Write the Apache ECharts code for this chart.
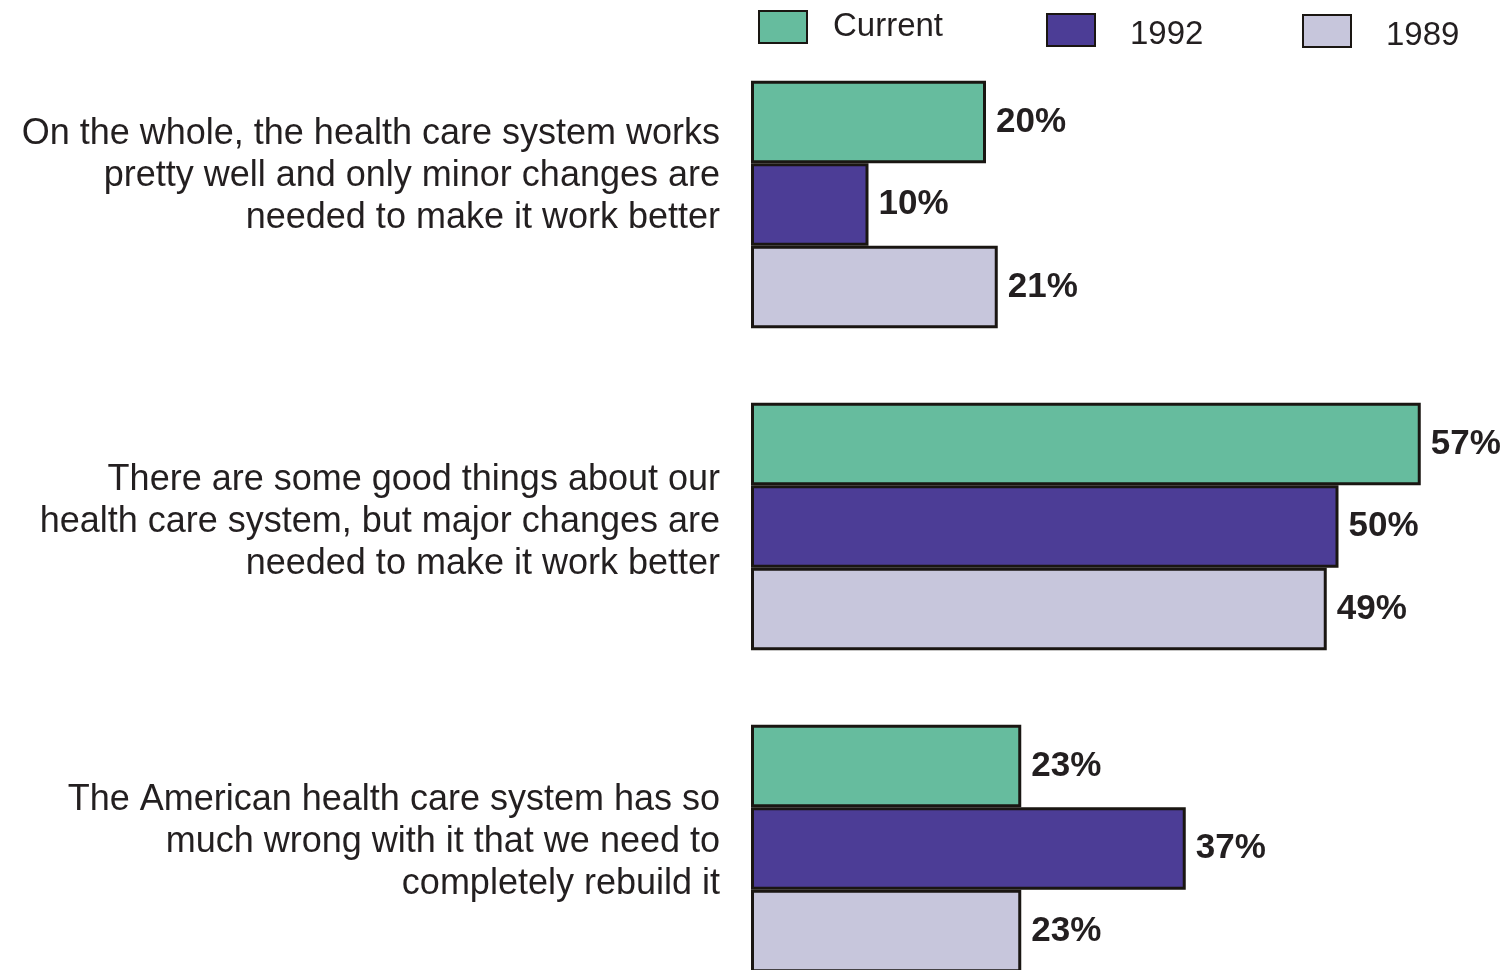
<!DOCTYPE html>
<html>
<head>
<meta charset="utf-8">
<script src="https://cdn.jsdelivr.net/npm/echarts@6/dist/echarts.min.js"></script>
<style>html,body{margin:0;padding:0;background:#fff;}#c{width:1506px;height:970px;}</style>
</head>
<body>
<div id="c"></div>
<script>
const categories = [
  "On the whole, the health care system works\npretty well and only minor changes are\nneeded to make it work better",
  "There are some good things about our\nhealth care system, but major changes are\nneeded to make it work better",
  "The American health care system has so\nmuch wrong with it that we need to\ncompletely rebuild it"
];
const seriesNames = ["Current", "1992", "1989"];
const currentValues = [20, 57, 23];
const values1992 = [10, 50, 37];
const values1989 = [21, 49, 23];

const colors = ["#66bc9e", "#4c3d96", "#c7c6dc"];
const labelShift = [57, 9, 13];
const textColor = "#231f20";
const font = "Liberation Sans, Arial, Helvetica, sans-serif";

const chart = echarts.init(document.getElementById('c'), null, {renderer: 'canvas'});

function barSeries(name, data, color) {
  return {
    name: name,
    type: 'bar',
    data: data,
    barWidth: 82.5,
    barGap: '0%',
    itemStyle: {color: color, borderColor: '#1a1612', borderWidth: 3},
    label: {
      show: true,
      position: 'right',
      distance: 10,
      formatter: '{c}%',
      fontFamily: font,
      fontWeight: 'bold',
      fontSize: 35,
      color: textColor
    },
    emphasis: {disabled: true},
    animation: false
  };
}

function legendFor(i, left, top, padTop, padLeft) {
  return {
    data: [seriesNames[i]],
    left: left,
    top: top,
    orient: 'horizontal',
    padding: 0,
    itemWidth: 48,
    itemHeight: 32,
    icon: 'rect',
    selectedMode: false,
    formatter: '{t|{name}}',
    textStyle: {
      fontFamily: font, fontSize: 33, color: textColor,
      rich: {t: {fontFamily: font, fontSize: 33, color: textColor, padding: [padTop, 0, 0, padLeft]}}
    }
  };
}

const rich = {};
labelShift.forEach((s, i) => {
  rich['sp' + i] = {lineHeight: s, height: s, fontSize: 1};
});

chart.setOption({
  animation: false,
  backgroundColor: '#ffffff',
  legend: [
    legendFor(0, 758, 10, 0, 21),
    legendFor(1, 1046, 13, 10, 30),
    legendFor(2, 1302, 14, 10, 30)
  ],
  grid: {left: 751, top: 43.5, width: 705, height: 966, containLabel: false, outerBoundsMode: 'none'},
  xAxis: {
    type: 'value',
    min: 0,
    max: 60,
    show: false
  },
  yAxis: {
    type: 'category',
    inverse: true,
    data: categories,
    axisLine: {show: false},
    axisTick: {show: false},
    axisLabel: {
      margin: 31,
      fontFamily: font,
      fontSize: 36,
      lineHeight: 42,
      color: textColor,
      align: 'right',
      verticalAlign: 'middle',
      formatter: (v, i) => v + '\n{sp' + i + '| }',
      rich: rich
    }
  },
  series: [
    barSeries(seriesNames[0], currentValues, colors[0]),
    barSeries(seriesNames[1], values1992, colors[1]),
    barSeries(seriesNames[2], values1989, colors[2])
  ]
});
</script>
</body>
</html>
